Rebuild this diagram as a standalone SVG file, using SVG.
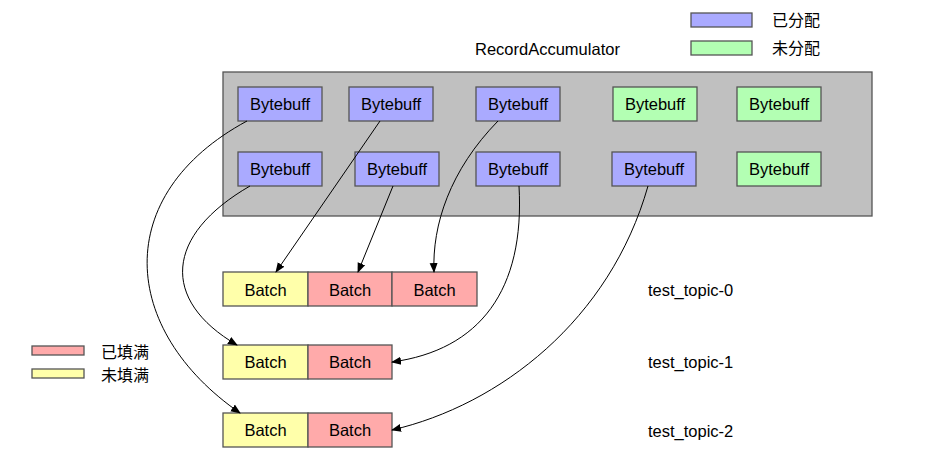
<svg xmlns="http://www.w3.org/2000/svg" width="925" height="465" viewBox="0 0 925 465">
<defs>
<marker id="arr" viewBox="0 0 10 10" refX="9" refY="5" markerWidth="10" markerHeight="10" markerUnits="userSpaceOnUse" orient="auto">
<path d="M0,1 L10,5 L0,9 Z" fill="#000"/>
</marker>
<style>
.box{stroke:#555;stroke-width:1.3}
.used{fill:#aaaaff}
.free{fill:#b3ffb3}
.full{fill:#ffaaaa}
.part{fill:#ffffaa}
text{font-family:"Liberation Sans",Arial,"Noto Sans CJK SC",sans-serif;font-size:16.5px;fill:#000}
.cjk{font-size:16px}
.c{text-anchor:middle;dominant-baseline:central}
.l{dominant-baseline:central}
.conn path{fill:none;stroke:#000;stroke-width:1;marker-end:url(#arr)}
</style>
</defs>
<rect width="925" height="465" fill="#fff"/>
<g id="legend">
<rect class="box used" x="691" y="13" width="61" height="14"/>
<text class="l cjk" x="772" y="20">已分配</text>
<rect class="box free" x="691" y="41" width="61" height="14"/>
<text class="l cjk" x="772" y="48">未分配</text>
<rect class="box full" x="32" y="346" width="52" height="9"/>
<text class="l cjk" x="101" y="352">已填满</text>
<rect class="box part" x="32" y="369" width="52" height="9"/>
<text class="l cjk" x="101" y="375">未填满</text>
</g>
<g id="accumulator">
<text class="l" x="475" y="49">RecordAccumulator</text>
<rect class="box" x="223" y="72" width="649" height="144" fill="#c0c0c0"/>
</g>
<g id="bb1"><rect class="box used" x="238" y="87" width="84" height="34"/><text class="c" x="280" y="104">Bytebuff</text></g>
<g id="bb2"><rect class="box used" x="349" y="87" width="84" height="34"/><text class="c" x="391" y="104">Bytebuff</text></g>
<g id="bb3"><rect class="box used" x="476" y="87" width="84" height="34"/><text class="c" x="518" y="104">Bytebuff</text></g>
<g id="bb4"><rect class="box free" x="613" y="87" width="84" height="34"/><text class="c" x="655" y="104">Bytebuff</text></g>
<g id="bb5"><rect class="box free" x="737" y="87" width="84" height="34"/><text class="c" x="779" y="104">Bytebuff</text></g>
<g id="bb6"><rect class="box used" x="238" y="152" width="84" height="34"/><text class="c" x="280" y="169">Bytebuff</text></g>
<g id="bb7"><rect class="box used" x="355" y="152" width="84" height="34"/><text class="c" x="397" y="169">Bytebuff</text></g>
<g id="bb8"><rect class="box used" x="476" y="152" width="84" height="34"/><text class="c" x="518" y="169">Bytebuff</text></g>
<g id="bb9"><rect class="box used" x="612" y="152" width="84" height="34"/><text class="c" x="654" y="169">Bytebuff</text></g>
<g id="bb10"><rect class="box free" x="737" y="152" width="84" height="34"/><text class="c" x="779" y="169">Bytebuff</text></g>
<g id="topic0">
<rect class="box part" x="223" y="272" width="85" height="34"/><text class="c" x="265.5" y="290">Batch</text>
<rect class="box full" x="308" y="272" width="84" height="34"/><text class="c" x="350" y="290">Batch</text>
<rect class="box full" x="392" y="272" width="85" height="34"/><text class="c" x="434.5" y="290">Batch</text>
<text class="l" x="648" y="290">test_topic-0</text>
</g>
<g id="topic1">
<rect class="box part" x="223" y="345" width="85" height="34"/><text class="c" x="265.5" y="362">Batch</text>
<rect class="box full" x="308" y="345" width="84" height="34"/><text class="c" x="350" y="362">Batch</text>
<text class="l" x="648" y="362">test_topic-1</text>
</g>
<g id="topic2">
<rect class="box part" x="223" y="413" width="85" height="34"/><text class="c" x="265.5" y="430">Batch</text>
<rect class="box full" x="308" y="413" width="84" height="34"/><text class="c" x="350" y="430">Batch</text>
<text class="l" x="648" y="431">test_topic-2</text>
</g>
<g id="connectors" class="conn">
<path d="M247,121 C110,195 120,330 240,413"/>
<path d="M380,121 L276,272"/>
<path d="M498,121 C450,170 432,225 434,272"/>
<path d="M250,186 C165,235 160,300 237,345"/>
<path d="M393,186 L358,272"/>
<path d="M519,186 C525,290 480,350 392,362"/>
<path d="M648,186 C610,320 500,405 392,430"/>
</g>
</svg>
